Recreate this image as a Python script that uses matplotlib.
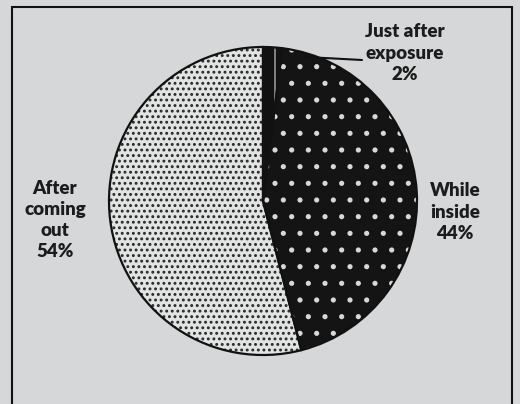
import matplotlib

matplotlib.use("Agg")
import matplotlib.pyplot as plt
from matplotlib.patches import Rectangle

labels = ["Just after\nexposure", "While\ninside", "After\ncoming\nout"]
shares = [2, 44, 54]
face_colors = ["#111111", "#141414", "#e2e3e3"]
hatch_colors = ["#8a8a8a", "#d8d8d8", "#262626"]
hatches = ["|", ".", "..."]

W, H = 520, 404
center = (263, H - 201)
radius = 154

plt.rcParams["font.family"] = ["Lato", "DejaVu Sans"]
plt.rcParams["hatch.linewidth"] = 1.3

fig = plt.figure(figsize=(W / 100, H / 100), dpi=100, facecolor="#d5d7d8")
ax = fig.add_axes([0, 0, 1, 1])

# fill with hatches (hatch colour follows edge colour)
wedges, _ = ax.pie(
    shares,
    startangle=90,
    counterclock=False,
    center=center,
    radius=radius,
    colors=face_colors,
    wedgeprops=dict(linewidth=0),
)
for w, hc, h in zip(wedges, hatch_colors, hatches):
    w.set_edgecolor(hc)
    w.set_hatch(h)
    w.set_linewidth(0)

# outlines on top
ax.pie(
    shares,
    startangle=90,
    counterclock=False,
    center=center,
    radius=radius,
    colors=["none"] * len(shares),
    wedgeprops=dict(linewidth=1.6, edgecolor="#111111", fill=False),
)

ax.set_xlim(0, W)
ax.set_ylim(0, H)
ax.set_aspect("equal")
ax.axis("off")

ax.add_patch(Rectangle((12, -5), 500, H - 2, fill=False, edgecolor="#111111", linewidth=1.5))

txt = dict(fontsize=13.5, fontweight="heavy", color="#1c1c1c", ha="center", va="center", linespacing=1.3)
# leader line for the small slice
ax.annotate(
    "",
    xy=(306, H - 57),
    xytext=(362, H - 60),
    arrowprops=dict(arrowstyle="-", color="#111111", linewidth=1.5, shrinkA=0, shrinkB=0),
)
ax.text(405, H - 53, f"{labels[0]}\n{shares[0]}%", **txt)
ax.text(455, H - 212, f"{labels[1]}\n{shares[1]}%", **txt)
ax.text(55, H - 220, f"{labels[2]}\n{shares[2]}%", **txt)

fig.savefig("out.png", dpi=100, facecolor=fig.get_facecolor())
